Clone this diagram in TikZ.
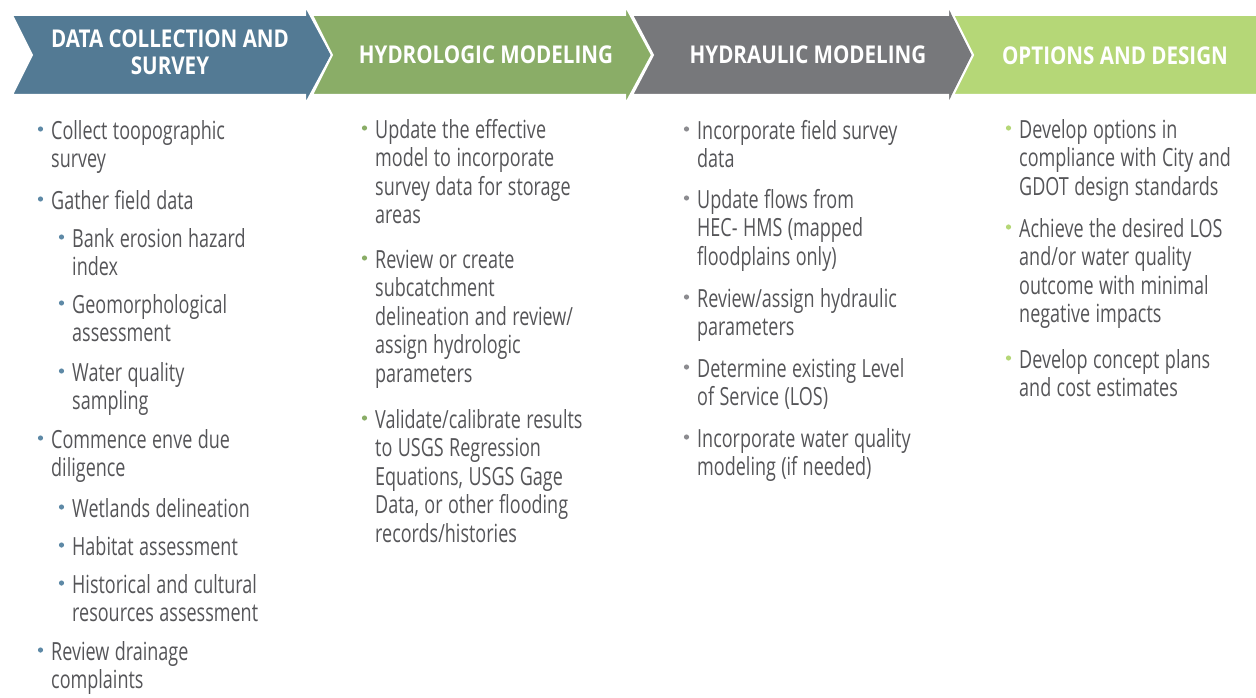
\documentclass[tikz,border=0pt]{standalone}
\usepackage{fontspec}
\setmainfont{Open Sans}[FakeStretch=0.72]
\newfontfamily\hdfont{Open Sans}[FakeStretch=0.84]
\usetikzlibrary{calc}
\definecolor{cblue}{HTML}{537A94}
\definecolor{cgreen}{HTML}{8AAD67}
\definecolor{cgray}{HTML}{77787B}
\definecolor{clight}{HTML}{B5D777}
\definecolor{txt}{HTML}{555558}
\definecolor{bblue}{HTML}{5E89A6}
\definecolor{bgray}{HTML}{8C8C90}
\tikzset{
  chev/.style={draw=white, line width=2pt, line join=miter},
  hdr/.style={text=white, font=\hdfont\bfseries\fontsize{24.5}{27}\selectfont, align=center, inner sep=0pt},
  itemtxt/.style={text=txt, font=\fontsize{25}{28.5}\selectfont, text width=250pt, align=left, inner sep=0pt},
}
\newcommand\itm[5]{%
  \node[itemtxt, anchor=north west] (#1) at (#2,#3-19.95) {\spaceskip=5.4pt plus 1pt\relax\strut #5};
  \fill[#4] (#2-10.5,#3-10) circle (2.6);
}
\begin{document}
\begin{tikzpicture}[x=1pt,y=-1pt]
\useasboundingbox (0,0) rectangle (1256,698);
% chevrons
\fill[cblue,chev] (12,15) -- (305,15) -- (305,5) -- (332,55) -- (305,105) -- (305,95) -- (12,95) -- (32,55) -- cycle;
\fill[cgreen,chev] (312,15) -- (625,15) -- (625,5) -- (652,55) -- (625,105) -- (625,95) -- (312,95) -- (332,55) -- cycle;
\fill[cgray,chev] (632,15) -- (948,15) -- (948,5) -- (973,55) -- (948,105) -- (948,95) -- (632,95) -- (653,55) -- cycle;
\fill[clight,chev] (953,15) -- (1258,15) -- (1258,95) -- (953,95) -- (973,55) -- cycle;
\node[hdr] (h1) at (170,52.5) {DATA COLLECTION AND\\SURVEY};
\node[hdr] (h2) at (486,55) {HYDROLOGIC MODELING};
\node[hdr] (h3) at (808,55) {HYDRAULIC MODELING};
\node[hdr] (h4) at (1115,56) {OPTIONS AND DESIGN};
% column 1
\itm{a1}{51}{139}{bblue}{Collect toopographic\\survey}
\itm{a2}{51}{209}{bblue}{Gather field data}
\itm{a3}{72}{247}{bblue}{Bank erosion hazard\\index}
\itm{a4}{72}{313}{bblue}{Geomorphological\\assessment}
\itm{a5}{72}{381}{bblue}{Water quality\\sampling}
\itm{a6}{51}{448}{bblue}{Commence enve due\\diligence}
\itm{a7}{72}{517}{bblue}{Wetlands delineation}
\itm{a8}{72}{555}{bblue}{Habitat assessment}
\itm{a9}{72}{593}{bblue}{Historical and cultural\\resources assessment}
\itm{a10}{51}{660}{bblue}{Review drainage\\complaints}
% column 2
\itm{b1}{375}{138}{cgreen}{Update the effective\\model to incorporate\\survey data for storage\\areas}
\itm{b2}{375}{268}{cgreen}{Review or create\\subcatchment\\delineation and review/\\assign hydrologic\\parameters}
\itm{b3}{375}{428}{cgreen}{Validate/calibrate results\\to USGS Regression\\Equations, USGS Gage\\Data, or other flooding\\records/histories}
% column 3
\itm{c1}{697}{139}{bgray}{Incorporate field survey\\data}
\itm{c2}{697}{208}{bgray}{Update flows from\\HEC- HMS (mapped\\floodplains only)}
\itm{c3}{697}{307}{bgray}{Review/assign hydraulic\\parameters}
\itm{c4}{697}{377}{bgray}{Determine existing Level\\of Service (LOS)}
\itm{c5}{697}{447}{bgray}{Incorporate water quality\\modeling (if needed)}
% column 4
\itm{d1}{1019}{138}{clight}{Develop options in\\compliance with City and\\GDOT design standards}
\itm{d2}{1019}{237}{clight}{Achieve the desired LOS\\and/or water quality\\outcome with minimal\\negative impacts}
\itm{d3}{1019}{368}{clight}{Develop concept plans\\and cost estimates}
\end{tikzpicture}
\end{document}
